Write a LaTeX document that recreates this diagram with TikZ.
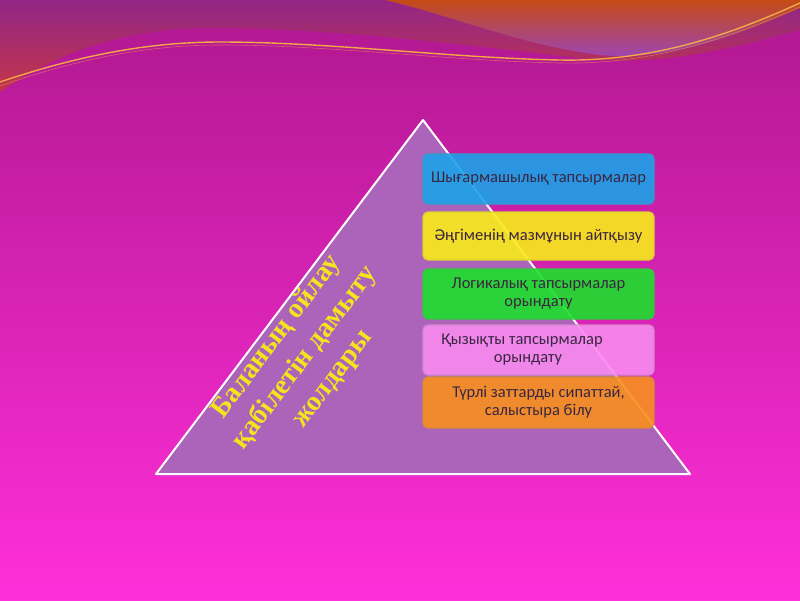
\documentclass[tikz,border=0pt]{standalone}
\usepackage{fontspec}
\setmainfont{Carlito}
\newfontfamily\titlefont{Liberation Serif}
\definecolor{bgtop}{HTML}{B0178F}
\definecolor{bgmid}{HTML}{DC24BE}
\definecolor{bgbot}{HTML}{FF2FD9}
\definecolor{redtop}{HTML}{922686}
\definecolor{redbot}{HTML}{C4354A}
\definecolor{orgtop}{HTML}{C54A15}
\definecolor{orgbot}{HTML}{9A45C0}
\definecolor{gold}{HTML}{F0A848}
\definecolor{tri}{HTML}{AB64BA}
\definecolor{cblue}{HTML}{1BA3E8}
\definecolor{cyellow}{HTML}{F8EC1A}
\definecolor{cgreen}{HTML}{1BE02B}
\definecolor{cpink}{HTML}{F98AF0}
\definecolor{corange}{HTML}{F7901E}
\definecolor{txt}{HTML}{3A2640}
\definecolor{ytext}{HTML}{F4E41E}
\begin{document}
\begin{tikzpicture}[x=1pt,y=-1pt,
  boxstyle/.style={rounded corners=5pt, minimum width=231pt, line width=1.2pt,
    font=\fontsize{16.5}{18}\selectfont, text=txt, align=center, inner sep=0pt,
    fill opacity=0.9, text opacity=1}]
\useasboundingbox (0,0) rectangle (800,600);
% background
\shade[top color=bgtop, middle color=bgmid, bottom color=bgbot] (0,0) rectangle (800,600);
% reddish top band
\shade[top color=redtop, bottom color=redbot]
  (0,0) -- (800,0) -- (800,30) .. controls (760,40) and (680,65) .. (600,60)
  .. controls (500,50) and (350,28) .. (210,28) .. controls (130,28) and (60,50) .. (0,92) -- cycle;
% orange wave
\shade[top color=orgtop, bottom color=orgbot]
  (385,0) .. controls (450,15) and (520,45) .. (600,55) .. controls (680,62) and (760,25) .. (800,8)
  -- (800,0) -- cycle;
% gold lines
\draw[gold, line width=1.4pt]
  (0,82) .. controls (80,55) and (150,42) .. (220,42) .. controls (330,42) and (450,58) .. (560,60)
  .. controls (660,62) and (740,30) .. (800,3);
\draw[gold, line width=0.6pt, opacity=0.5]
  (0,86) .. controls (80,58) and (150,45) .. (220,45) .. controls (330,45) and (450,61) .. (560,63)
  .. controls (660,65) and (740,33) .. (800,7);
% triangle
\coordinate (tA) at (423,120);
\coordinate (tR) at (690,474);
\coordinate (tL) at (156,474);
\draw[white, line width=2pt, fill=tri, line join=round] (tA) -- (tR) -- (tL) -- cycle;
% boxes
\node[boxstyle, fill=cblue, draw=cblue!75!gray, minimum height=50pt] (b1) at (538.5,179) {Шығармашылық тапсырмалар};
\node[boxstyle, fill=cyellow, draw=cyellow!75!gray, minimum height=48pt] (b2) at (538.5,236) {Әңгіменің мазмұнын айтқызу};
\node[boxstyle, fill=cgreen, draw=cgreen!75!gray, minimum height=50pt] (b3) at (538.5,294) {Логикалық тапсырмалар\\орындату};
\node[boxstyle, fill=cpink, draw=cpink!70!gray, minimum height=50pt] (b4) at (538.5,350) {\hspace*{-33pt}Қызықты тапсырмалар\\\hspace*{-21pt}орындату};
\node[boxstyle, fill=corange, draw=corange!75!gray, minimum height=51pt] (b5) at (538.5,402.5) {Түрлі заттарды сипаттай,\\салыстыра білу};
% title
\node[rotate=53, font=\titlefont\bfseries\fontsize{28}{35}\selectfont, text=ytext, align=center] (title) at (305,358) {Баланың ойлау\\қабілетін дамыту\\жолдары};
\end{tikzpicture}
\end{document}
